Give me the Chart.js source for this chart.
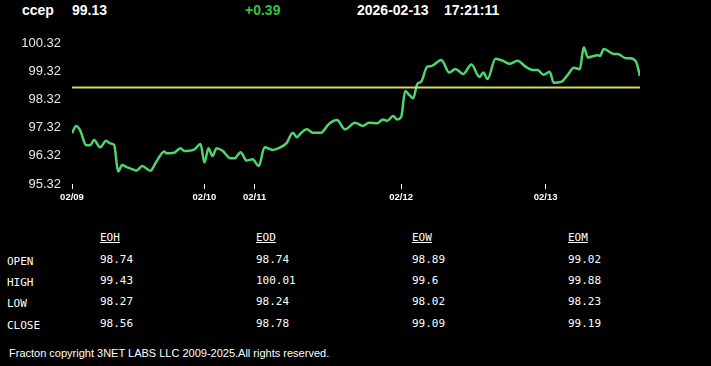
<!DOCTYPE html>
<html>
<head>
<meta charset="utf-8">
<script src="https://cdn.jsdelivr.net/npm/chart.js@4.4.1/dist/chart.umd.min.js"></script>
<style>
  body { margin: 0; background: #000; }
  #wrap { position: relative; width: 711px; height: 366px; background: #000; overflow: hidden; }
  .hd { position: absolute; top: 3px; font: bold 14px "Liberation Sans", Arial, sans-serif; line-height: 14px; color: #fff; white-space: nowrap; }
  .tb { position: absolute; font: 11px "DejaVu Sans Mono", "Liberation Mono", monospace; line-height: 11px; color: #fff; white-space: nowrap; }
  .tb.head { text-decoration: underline; }
  #foot { position: absolute; left: 9px; top: 348px; font: 11px "Liberation Sans", Arial, sans-serif; line-height: 11px; color: #fff; white-space: nowrap; }
  #chart { position: absolute; left: 0; top: 0; }
</style>
</head>
<body>
<div id="wrap">
  <div class="hd" style="left:22px">ccep</div>
  <div class="hd" id="last" style="left:72px"></div>
  <div class="hd" id="chg" style="left:245px;color:#3cc03c"></div>
  <div class="hd" id="date" style="left:357px"></div>
  <div class="hd" id="time" style="left:444px"></div>
  <canvas id="chart" width="711" height="210"></canvas>
  <div id="table"></div>
  <div id="foot">Fracton copyright 3NET LABS LLC 2009-2025.All rights reserved.</div>
</div>
<script>
// quote header
var lastPrice = "99.13";
var priceChange = "+0.39";
var quoteDate = "2026-02-13";
var quoteTime = "17:21:11";

// intraday series (bar index, price)
var barIndex = [0, 2, 4, 7, 9, 11, 14, 17, 19, 21, 23, 25, 27, 31, 32, 35, 39, 42, 46, 47,
  51, 54, 56, 61, 64, 66, 68, 70, 72, 75, 79, 81, 84, 87, 90, 93, 96, 100, 103, 107,
  110, 112, 114, 117, 120, 124, 128, 132, 136, 141, 145, 148, 152, 155, 157, 160, 162, 164, 166, 168,
  170, 172, 174, 177, 179, 184, 188, 191, 195, 199, 203, 205, 207, 211, 215, 218, 222, 226, 230, 232,
  235, 238, 240, 244, 247, 250, 253, 255, 257, 262, 263, 265, 270, 272, 276, 278, 281, 283];
var price = [97.12, 97.38, 97.23, 96.70, 96.69, 96.88, 96.62, 96.85, 96.76, 96.70, 95.76, 95.99, 95.93, 95.82, 95.79, 95.96, 95.79, 96.11, 96.47, 96.41,
  96.43, 96.59, 96.49, 96.55, 96.74, 96.08, 96.59, 96.31, 96.59, 96.50, 96.23, 96.23, 96.45, 96.15, 96.20, 95.96, 96.62, 96.53, 96.59, 96.78,
  97.14, 96.98, 97.12, 97.26, 97.14, 97.14, 97.45, 97.59, 97.26, 97.49, 97.38, 97.49, 97.47, 97.61, 97.56, 97.73, 97.61, 97.69, 98.62, 98.48,
  98.36, 98.86, 98.95, 99.48, 99.50, 99.72, 99.27, 99.40, 99.22, 99.56, 99.12, 99.27, 99.04, 99.76, 99.68, 99.58, 99.69, 99.48, 99.36, 99.36,
  99.19, 99.30, 98.91, 98.95, 99.19, 99.44, 99.39, 100.17, 99.81, 99.89, 99.86, 100.11, 99.93, 99.93, 99.78, 99.78, 99.66, 99.15];
var openLevel = 98.74;

var dayStart = [0, 66, 91, 164, 236];
var dayLabels = ["02/09", "02/10", "02/11", "02/12", "02/13"];
var yTicks = [95.32, 96.32, 97.32, 98.32, 99.32, 100.32];

// summary table
var periods = ["EOH", "EOD", "EOW", "EOM"];
var rowNames = ["OPEN", "HIGH", "LOW", "CLOSE"];
var eoh = ["98.74", "99.43", "98.27", "98.56"];
var eod = ["98.74", "100.01", "98.24", "98.78"];
var eow = ["98.89", "99.6", "98.02", "99.09"];
var eom = ["99.02", "99.88", "98.23", "99.19"];

document.getElementById("last").textContent = lastPrice;
document.getElementById("chg").textContent = priceChange;
document.getElementById("date").textContent = quoteDate;
document.getElementById("time").textContent = quoteTime;

var colX = [100, 256, 412, 568];
var rowY = [256, 277, 298, 320];
var cols = [eoh, eod, eow, eom];
var tbl = document.getElementById("table");
var html = "";
for (var c = 0; c < periods.length; c++) {
  html += '<div class="tb head" style="left:' + colX[c] + 'px;top:232px">' + periods[c] + '</div>';
  for (var r = 0; r < rowNames.length; r++) {
    html += '<div class="tb" style="left:' + colX[c] + 'px;top:' + (rowY[r] - 2) + 'px">' + cols[c][r] + '</div>';
  }
}
for (var r = 0; r < rowNames.length; r++) {
  html += '<div class="tb" style="left:7px;top:' + rowY[r] + 'px">' + rowNames[r] + '</div>';
}
tbl.innerHTML = html;

var pricePoints = barIndex.map(function (b, i) { return { x: b, y: price[i] }; });
var lastBar = barIndex[barIndex.length - 1];

var ctx = document.getElementById("chart").getContext("2d");
var myChart = new Chart(ctx, {
  type: "line",
  data: {
    datasets: [
      {
        label: "open",
        data: [{ x: 0, y: openLevel }, { x: lastBar, y: openLevel }],
        borderColor: "#d8d868",
        borderWidth: 2,
        pointRadius: 0,
        tension: 0
      },
      {
        label: "price",
        data: pricePoints,
        borderColor: "#4fd46e",
        borderWidth: 2.5,
        pointRadius: 0,
        cubicInterpolationMode: "monotone"
      }
    ]
  },
  options: {
    responsive: false,
    animation: false,
    layout: { padding: { top: 43, right: 71, left: 0, bottom: 0 } },
    plugins: { legend: { display: false }, tooltip: { enabled: false } },
    scales: {
      x: {
        type: "linear",
        min: 0,
        max: lastBar,
        afterBuildTicks: function (scale) {
          scale.ticks = dayStart.map(function (v) { return { value: v }; });
        },
        afterFit: function (scale) { scale.height = 26; },
        grid: { drawOnChartArea: false, drawTicks: true, tickLength: 5, color: "#fff" },
        border: { display: false },
        ticks: {
          autoSkip: false,
          maxRotation: 0,
          padding: 3,
          color: "#fff",
          font: { family: "'Liberation Sans', Arial", size: 9.5, weight: "bold" },
          callback: function (v) { return dayLabels[dayStart.indexOf(v)]; }
        }
      },
      y: {
        min: yTicks[0],
        max: yTicks[yTicks.length - 1],
        afterBuildTicks: function (scale) {
          scale.ticks = yTicks.map(function (v) { return { value: v }; });
        },
        afterFit: function (scale) { scale.width = 72; },
        grid: { display: false, drawTicks: false },
        border: { display: false },
        ticks: {
          padding: 11,
          color: "#e8e8e8",
          font: { family: "'Liberation Sans', Arial", size: 13 },
          callback: function (v) { return Number(v).toFixed(2); }
        }
      }
    }
  }
});
</script>
</body>
</html>
